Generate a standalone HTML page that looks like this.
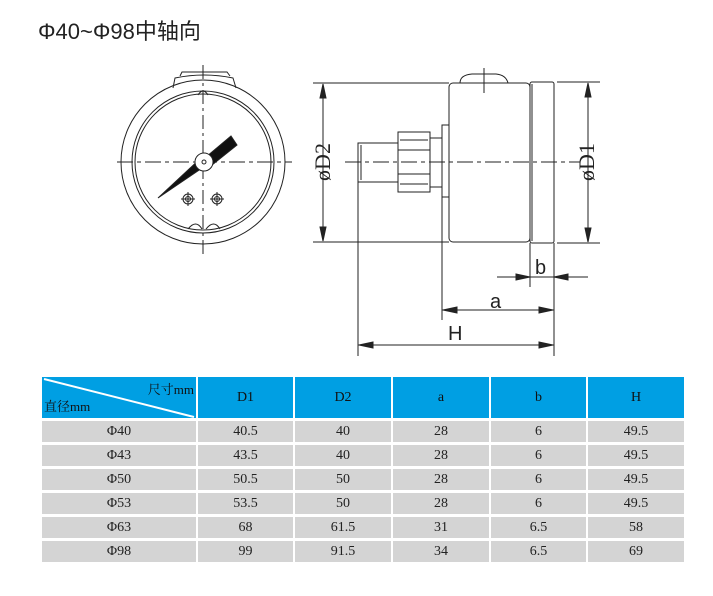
<!DOCTYPE html>
<html><head><meta charset="utf-8"><style>
body{margin:0;background:#fff;width:713px;height:596px;overflow:hidden;position:relative;font-family:"Liberation Serif","Noto Serif CJK SC",serif}
.t{position:absolute;left:38px;top:14px;font-size:22px;color:#222;font-family:"Liberation Sans","Noto Sans CJK SC",sans-serif}
table{position:absolute;left:42px;top:377px;border-collapse:separate;border-spacing:2px 3px;margin:-3px -2px;font-size:14px;color:#222}
td{background:#d4d4d4;text-align:center;height:21px;padding:0}
tr.h td{background:#009fe3;height:41px;color:#111}
</style></head><body>
<div class="t">Φ40~Φ98中轴向</div>
<svg width="713" height="370" style="position:absolute;left:0;top:0" fill="none" stroke="#222" stroke-width="1">
<!-- front view -->
<circle cx="203" cy="162" r="82"/>
<circle cx="203" cy="162" r="71"/>
<circle cx="203" cy="162" r="68"/>
<path d="M173 88 L175 78 Q204 72 233 78 L236 88"/>
<path d="M180 76 L182 72 L227 72 L230 76"/>
<path d="M198 95 q5 -8 10 0 M188 229 q8 -10 14 0 M206 229 q8 -10 14 0"/>
<path d="M203 65 V255" stroke-dasharray="14 4 3 4"/>
<path d="M117 162 H292" stroke-dasharray="16 4 4 4"/>
<path d="M158 198 L202 157 L208 164 Z" fill="#111"/>
<path d="M206 157 L231 136 L237 145 L212 165 Z" fill="#111"/>
<circle cx="204" cy="162" r="9" fill="#fff"/>
<circle cx="204" cy="162" r="2"/>
<g><circle cx="188" cy="199" r="5"/><circle cx="188" cy="199" r="2.5"/><path d="M181 199h14M188 192v14"/></g>
<g><circle cx="217" cy="199" r="5"/><circle cx="217" cy="199" r="2.5"/><path d="M210 199h14M217 192v14"/></g>
<!-- side view -->
<path d="M313 83 H449 M313 242 H449"/>
<path d="M323 85 V240"/>
<path d="M323 84 l-3 14 h6z M323 241 l-3 -14 h6z" fill="#222"/>
<text x="0" y="0" transform="translate(330,162) rotate(-90)" font-family="Liberation Serif" font-size="22" fill="#222" stroke="none" text-anchor="middle">øD2</text>
<rect x="449" y="83" width="81" height="159" rx="4"/>
<path d="M460 83 q0 -8 12 -9 h24 q10 1 12 9"/>
<path d="M484 68 V93"/>
<rect x="530" y="82" width="24" height="161" rx="2"/>
<path d="M532 84 V241"/>
<path d="M442 125 L449 125 L449 197 L442 197 Z"/>
<path d="M430 138 H442 V187 H430"/>
<path d="M398 132 H430 V192 H398 Z M400 140 L428 140 M400 184 L428 184 M398 150 H430 M398 174 H430"/>
<path d="M358 143 H398 V182 H358 Z M361 145 V180"/>
<path d="M345 162 H580" stroke-dasharray="16 4 4 4"/>
<path d="M557 82 H600 M557 243 H600"/>
<path d="M588 84 V241"/>
<path d="M588 83 l-3 14 h6z M588 242 l-3 -14 h6z" fill="#222"/>
<text x="0" y="0" transform="translate(594,162) rotate(-90)" font-family="Liberation Serif" font-size="22" fill="#222" stroke="none" text-anchor="middle">øD1</text>
<path d="M530 243 V287 M554 243 V356 M442 197 V320 M358 182 V356"/>
<path d="M497 277 H588"/>
<path d="M530 277 l-14 -3 v6z M554 277 l14 -3 v6z" fill="#222"/>
<text x="535" y="274" font-family="Liberation Sans" font-size="20" fill="#222" stroke="none">b</text>
<path d="M442 310 H554"/>
<path d="M443 310 l14 -3 v6z M553 310 l-14 -3 v6z" fill="#222"/>
<text x="490" y="308" font-family="Liberation Sans" font-size="20" fill="#222" stroke="none">a</text>
<path d="M358 345 H554"/>
<path d="M359 345 l14 -3 v6z M553 345 l-14 -3 v6z" fill="#222"/>
<text x="448" y="340" font-family="Liberation Sans" font-size="20" fill="#222" stroke="none">H</text>
</svg>
<table>
<tr class="h"><td style="width:154px;position:relative;text-align:left">
<svg width="154" height="41" style="position:absolute;left:0;top:0"><line x1="2" y1="2" x2="152" y2="40" stroke="#fff" stroke-width="2"/></svg>
<span style="position:absolute;right:2px;top:2px;font-size:13px">尺寸mm</span>
<span style="position:absolute;left:2px;bottom:3px;font-size:13px">直径mm</span></td>
<td style="width:95px">D1</td><td style="width:96px">D2</td><td style="width:96px">a</td><td style="width:95px">b</td><td style="width:96px">H</td></tr>
<tr><td>Φ40</td><td>40.5</td><td>40</td><td>28</td><td>6</td><td>49.5</td></tr>
<tr><td>Φ43</td><td>43.5</td><td>40</td><td>28</td><td>6</td><td>49.5</td></tr>
<tr><td>Φ50</td><td>50.5</td><td>50</td><td>28</td><td>6</td><td>49.5</td></tr>
<tr><td>Φ53</td><td>53.5</td><td>50</td><td>28</td><td>6</td><td>49.5</td></tr>
<tr><td>Φ63</td><td>68</td><td>61.5</td><td>31</td><td>6.5</td><td>58</td></tr>
<tr><td>Φ98</td><td>99</td><td>91.5</td><td>34</td><td>6.5</td><td>69</td></tr>
</table>
</body></html>
